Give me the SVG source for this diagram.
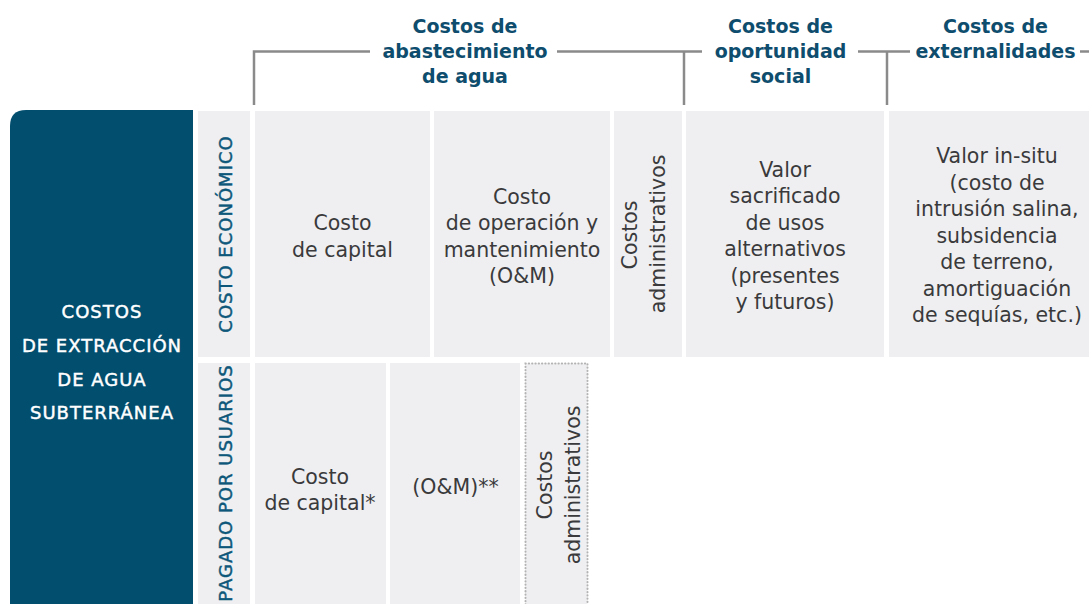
<svg xmlns="http://www.w3.org/2000/svg" width="1089" height="604" viewBox="0 0 1089 604">
<style>
.cell{fill:#efeff1}
.body{font-family:"DejaVu Sans","Liberation Sans",sans-serif;font-size:20.5px;fill:#3a3a3c;text-anchor:middle}
.title{font-family:"DejaVu Sans","Liberation Sans",sans-serif;font-size:19px;font-weight:bold;fill:#0e4d6d;text-anchor:middle}
.cap{font-family:"DejaVu Sans","Liberation Sans",sans-serif;font-size:18px;letter-spacing:1px;text-anchor:middle;stroke-width:0.45}
.br{stroke:#8a8a8a;stroke-width:2.5;fill:none}
</style>
<rect width="1089" height="604" fill="#ffffff"/>
<g id="connectors">
<path class="br" d="M254,105 V51.5 H370 M557,51.5 H702 M684,51.5 V105 M858,51.5 H910 M887,51.5 V105 M1080,51.5 H1089"/>
</g>
<g id="title-abastecimiento">
<text class="title"><tspan x="465" y="32.5">Costos de</tspan><tspan x="465" y="58">abastecimiento</tspan><tspan x="465" y="83">de agua</tspan></text>
</g>
<g id="title-oportunidad">
<text class="title"><tspan x="780.5" y="32.5">Costos de</tspan><tspan x="780.5" y="58">oportunidad</tspan><tspan x="780.5" y="83">social</tspan></text>
</g>
<g id="title-externalidades">
<text class="title"><tspan x="995.5" y="32.5">Costos de</tspan><tspan x="995.5" y="58">externalidades</tspan></text>
</g>
<g id="costos-extraccion">
<path d="M193,110 V604 H10 V126 Q10,110 26,110 Z" fill="#024e6f"/>
<text class="cap" fill="#ffffff" stroke="#ffffff"><tspan x="102" y="318">COSTOS</tspan><tspan x="102" y="352">DE EXTRACCIÓN</tspan><tspan x="102" y="386">DE AGUA</tspan><tspan x="102" y="419">SUBTERRÁNEA</tspan></text>
</g>
<g id="costo-economico">
<rect class="cell" x="198" y="111" width="52" height="246"/>
<text class="cap" fill="#0d577a" stroke="#0d577a" transform="translate(232,234) rotate(-90)">COSTO ECONÓMICO</text>
</g>
<g id="pagado-usuarios">
<rect class="cell" x="198" y="363" width="52" height="241"/>
<text class="cap" fill="#0d577a" stroke="#0d577a" transform="translate(232,483) rotate(-90)">PAGADO POR USUARIOS</text>
</g>
<g id="costo-capital">
<rect class="cell" x="255" y="111" width="175" height="246"/>
<text class="body"><tspan x="342.5" y="230">Costo</tspan><tspan x="342.5" y="256.5">de capital</tspan></text>
</g>
<g id="costo-om">
<rect class="cell" x="434" y="111" width="176" height="246"/>
<text class="body"><tspan x="522" y="203.5">Costo</tspan><tspan x="522" y="230">de operación y</tspan><tspan x="522" y="256.5">mantenimiento</tspan><tspan x="522" y="283">(O&amp;M)</tspan></text>
</g>
<g id="costos-admin">
<rect class="cell" x="614" y="111" width="68" height="246"/>
<text class="body" transform="translate(637,235) rotate(-90)">Costos</text>
<text class="body" transform="translate(665,234) rotate(-90)">administrativos</text>
</g>
<g id="valor-sacrificado">
<rect class="cell" x="686" y="111" width="198" height="246"/>
<text class="body"><tspan x="785" y="176.5">Valor</tspan><tspan x="785" y="203">sacrificado</tspan><tspan x="785" y="229.5">de usos</tspan><tspan x="785" y="256">alternativos</tspan><tspan x="785" y="282.5">(presentes</tspan><tspan x="785" y="309">y futuros)</tspan></text>
</g>
<g id="valor-in-situ">
<rect class="cell" x="889" y="111" width="216" height="246"/>
<text class="body"><tspan x="997" y="163">Valor in-situ</tspan><tspan x="997" y="189.5">(costo de</tspan><tspan x="997" y="216">intrusión salina,</tspan><tspan x="997" y="242.5">subsidencia</tspan><tspan x="997" y="269">de terreno,</tspan><tspan x="997" y="295.5">amortiguación</tspan><tspan x="997" y="322">de sequías, etc.)</tspan></text>
</g>
<g id="costo-capital-usuarios">
<rect class="cell" x="255" y="363" width="131" height="241"/>
<text class="body"><tspan x="320" y="483.5">Costo</tspan><tspan x="320" y="510">de capital*</tspan></text>
</g>
<g id="om-usuarios">
<rect class="cell" x="390" y="363" width="130" height="241"/>
<text class="body" x="455.5" y="494">(O&amp;M)**</text>
</g>
<g id="costos-admin-usuarios">
<rect class="cell" x="525.5" y="363.5" width="62" height="245" stroke="#b3b3b3" stroke-width="2" stroke-linecap="round" stroke-dasharray="0.3 3"/>
<text class="body" transform="translate(552,485) rotate(-90)">Costos</text>
<text class="body" transform="translate(580,485) rotate(-90)">administrativos</text>
</g>
</svg>
